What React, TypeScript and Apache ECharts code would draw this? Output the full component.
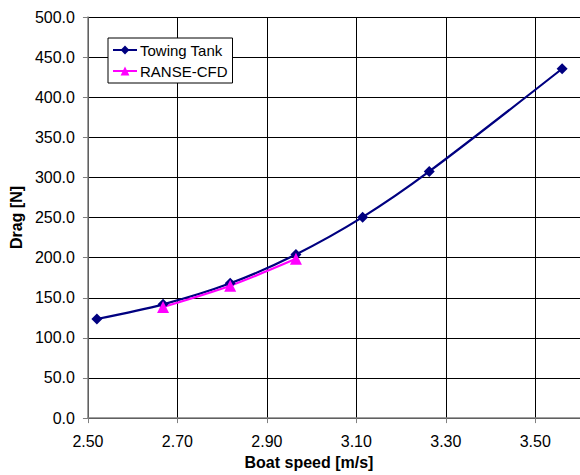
import React, { useEffect, useRef } from "react";
import * as echarts from "echarts";

const speedTank = [2.52, 2.668, 2.818, 2.965, 3.114, 3.263, 3.56];
const dragTank = [123.5, 141.8, 168.0, 204.0, 250.5, 307.5, 435.5];
const speedCfd = [2.668, 2.818, 2.965];
const dragCfd = [138.5, 165.0, 198.5];
const seriesNames = ["Towing Tank", "RANSE-CFD"];

export default function App() {
  const ref = useRef<HTMLDivElement>(null);
  useEffect(() => {
    if (!ref.current) return;
    const chart = echarts.init(ref.current, undefined, { renderer: "svg" });
    const font = "Arial, 'Liberation Sans', sans-serif";
    chart.setOption({
      animation: false,
      backgroundColor: "#ffffff",
      textStyle: { fontFamily: font },
      grid: { left: 83, top: 17, width: 501, height: 409 },
      legend: {
        data: seriesNames,
        orient: "vertical",
        left: 108,
        top: 38,
        padding: [3, 5, 3, 4],
        itemGap: 3,
        itemWidth: 24,
        itemHeight: 11,
        backgroundColor: "#ffffff",
        borderColor: "#000000",
        borderWidth: 1,
        textStyle: { fontSize: 15, color: "#000", fontFamily: font, padding: [0, 0, 0, -2], lineHeight: 18 },
      },
      xAxis: {
        type: "value",
        min: 2.5,
        max: 3.6,
        interval: 0.2,
        name: "Boat speed [m/s]",
        nameLocation: "middle",
        nameGap: 31,
        nameTextStyle: { fontSize: 16, fontWeight: "bold", color: "#000", fontFamily: font, padding: [0, 50, 0, 0] },
        axisLine: { show: true, lineStyle: { color: "#808080", width: 1.5 } },
        axisTick: { show: true, inside: false, length: 5, lineStyle: { color: "#808080" } },
        axisLabel: { fontSize: 16, color: "#000", margin: 15, showMaxLabel: false, formatter: (v: number) => v.toFixed(2) },
        splitLine: { show: true, lineStyle: { color: "#000000", width: 1 } },
      },
      yAxis: {
        type: "value",
        min: 0,
        max: 500,
        interval: 50,
        name: "Drag [N]",
        nameLocation: "middle",
        nameGap: 56,
        nameTextStyle: { fontSize: 16, fontWeight: "bold", color: "#000", fontFamily: font },
        axisLine: { show: true, lineStyle: { color: "#808080", width: 1.5 } },
        axisTick: { show: true, inside: false, length: 5, lineStyle: { color: "#808080" } },
        axisLabel: { fontSize: 16, color: "#000", margin: 13, formatter: (v: number) => v.toFixed(1) },
        splitLine: { show: true, lineStyle: { color: "#000000", width: 1 } },
      },
      series: [
        {
          name: seriesNames[0],
          type: "line",
          data: speedTank.map((s, i) => [s, dragTank[i]]),
          smooth: 0.3,
          symbol: "diamond",
          symbolSize: 11,
          itemStyle: { color: "#000080" },
          lineStyle: { color: "#000080", width: 2.2 },
        },
        {
          name: seriesNames[1],
          type: "line",
          data: speedCfd.map((s, i) => [s, dragCfd[i]]),
          smooth: 0.3,
          symbol: "triangle",
          symbolSize: 12,
          itemStyle: { color: "#FF00FF" },
          lineStyle: { color: "#FF00FF", width: 2.2 },
        },
      ],
    });
    return () => chart.dispose();
  }, []);
  return (
    <div
      ref={ref}
      style={{ position: "fixed", left: 0, top: 0, width: 580, height: 475, background: "#fff" }}
    />
  );
}
